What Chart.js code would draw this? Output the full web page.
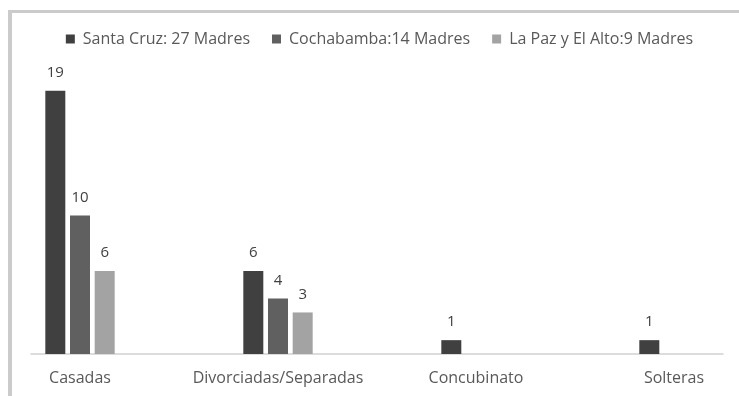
<!DOCTYPE html>
<html>
<head>
<meta charset="utf-8">
<script src="https://cdn.jsdelivr.net/npm/chart.js@4"></script>
<style>
    body { margin: 0; background: #fff; }
    #wrap { position: relative; width: 739px; height: 396px; overflow: hidden; }
    #frame { position: absolute; left: 8px; top: 10px; width: 900px; height: 500px;
             border-top: 3px solid #cbcbcb; border-left: 4px solid #cbcbcb; }
    canvas { position: absolute; left: 0; top: 0; }
</style>
</head>
<body>
<div id="wrap">
    <div id="frame"></div>
    <canvas id="estadoCivilChart" width="739" height="396"></canvas>
</div>
<script>
// categories and series
const categorias = ['Casadas', 'Divorciadas/Separadas', 'Concubinato', 'Solteras'];
const santaCruz = [19, 6, 1, 1];
const cochabamba = [10, 4, null, null];
const laPaz = [6, 3, null, null];
const nombresSeries = ['Santa Cruz: 27 Madres', 'Cochabamba:14 Madres', 'La Paz y El Alto:9 Madres'];
const coloresSeries = ['#404040', '#606060', '#a3a3a3'];

const fuente = "'Open Sans', 'Liberation Sans', sans-serif";

// values above each bar
const etiquetasPlugin = {
    id: 'etiquetas',
    afterDatasetsDraw(chart) {
        const ctx = chart.ctx;
        ctx.save();
        ctx.font = '15px ' + fuente;
        ctx.fillStyle = '#404040';
        ctx.textAlign = 'center';
        ctx.textBaseline = 'middle';
        chart.data.datasets.forEach((ds, i) => {
            const meta = chart.getDatasetMeta(i);
            meta.data.forEach((bar, j) => {
                if (ds.data[j] === null) return;
                ctx.fillText(ds.data[j], bar.x, bar.y - 18);
            });
        });
        ctx.restore();
    }
};

// category axis line, runs a bit past the outer groups like in the original
const ejePlugin = {
    id: 'ejeX',
    beforeDatasetsDraw(chart) {
        const { ctx, chartArea } = chart;
        const step = chart.scales.x.getPixelForValue(1) - chart.scales.x.getPixelForValue(0);
        ctx.save();
        ctx.strokeStyle = '#d0d0d0';
        ctx.lineWidth = 1.5;
        ctx.beginPath();
        ctx.moveTo(chartArea.left - step / 4, chartArea.bottom);
        ctx.lineTo(chartArea.right + step / 4, chartArea.bottom);
        ctx.stroke();
        ctx.restore();
    }
};

// push the plot down a little under the legend
const legendGap = {
    id: 'legendGap',
    beforeInit(chart) {
        const fit = chart.legend.fit;
        chart.legend.fit = function() {
            fit.bind(chart.legend)();
            this.height += 20;
        };
    }
};

const ctx = document.getElementById('estadoCivilChart').getContext('2d');
const estadoCivilChart = new Chart(ctx, {
    type: 'bar',
    data: {
        labels: categorias,
        datasets: [santaCruz, cochabamba, laPaz].map((serie, i) => ({
            label: nombresSeries[i],
            data: serie,
            backgroundColor: coloresSeries[i],
            borderWidth: 0,
            categoryPercentage: 0.374,
            barPercentage: 0.81,
            clip: false
        }))
    },
    options: {
        responsive: false,
        animation: false,
        layout: {
            padding: { top: 9, left: 20, right: 0, bottom: 0 }
        },
        plugins: {
            legend: {
                position: 'top',
                labels: {
                    boxWidth: 9,
                    boxHeight: 9,
                    padding: 22,
                    color: '#595959',
                    font: { family: fuente, size: 16 }
                }
            },
            tooltip: { enabled: false }
        },
        scales: {
            x: {
                offset: false,
                grid: { display: false, drawTicks: false },
                border: { display: false },
                ticks: {
                    padding: 15,
                    color: '#595959',
                    maxRotation: 0,
                    autoSkip: false,
                    font: { family: fuente, size: 16 }
                },
                afterFit(scale) { scale.height = 42; }
            },
            y: {
                min: 0,
                max: 20,
                grid: { display: false },
                border: { display: false },
                ticks: { display: false },
                afterFit(scale) { scale.width = 60; }
            },
            // empty space on the right so the last group sits where it does in the original
            derecha: {
                position: 'right',
                grid: { display: false },
                border: { display: false },
                ticks: { display: false },
                afterFit(scale) { scale.width = 65; }
            }
        }
    },
    plugins: [etiquetasPlugin, ejePlugin, legendGap]
});
</script>
</body>
</html>
